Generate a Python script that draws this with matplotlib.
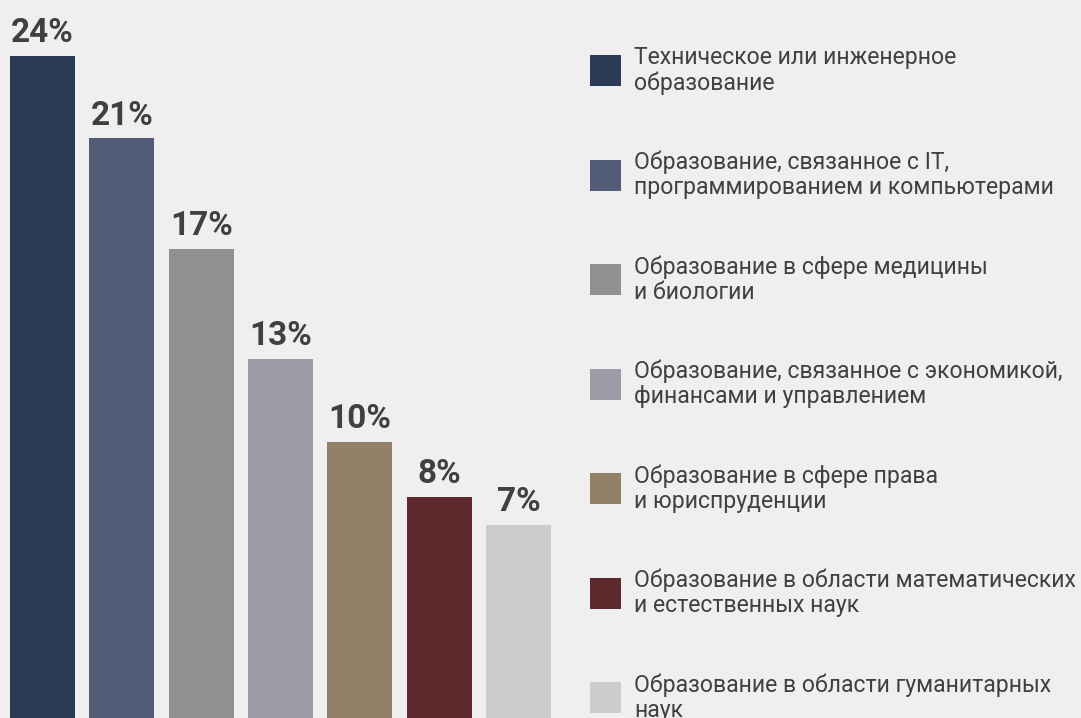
import matplotlib
matplotlib.use("Agg")
import matplotlib.pyplot as plt
from matplotlib.patches import Rectangle

categories = [
    "Техническое или инженерное\nобразование",
    "Образование, связанное с IT,\nпрограммированием и компьютерами",
    "Образование в сфере медицины\nи биологии",
    "Образование, связанное с экономикой,\nфинансами и управлением",
    "Образование в сфере права\nи юриспруденции",
    "Образование в области математических\nи естественных наук",
    "Образование в области гуманитарных\nнаук",
]
values = [24, 21, 17, 13, 10, 8, 7]
colors = ["#2B3A55", "#525C77", "#8F918F", "#9F9AA8", "#928068", "#5E292D", "#CDCDCD"]

BG = "#EFEFEF"
TXT = "#404040"
W, H = 1081, 718

plt.rcParams["font.family"] = ["Roboto", "DejaVu Sans"]

fig = plt.figure(figsize=(W / 100, H / 100), dpi=100, facecolor=BG)

# bars: axes spans the left part of the figure, bottom at the figure edge
ax = fig.add_axes([0, 0, 580 / W, 1])
ax.set_facecolor(BG)
step = 79.33
x = list(range(len(values)))
ax.bar(x, values, width=65 / step, color=colors, edgecolor="none")
ax.set_xlim(-42.5 / step, (580 - 42.5) / step)
ax.set_ylim(0, H / 27.6)
for xi, v in zip(x, values):
    ax.annotate(f"{v}%", (xi, v), xytext=(0, 10), textcoords="offset points",
                ha="center", va="baseline", fontsize=24, fontweight="bold", color=TXT)
ax.axis("off")

# legend drawn in pixel units
lax = fig.add_axes([580 / W, 0, 1 - 580 / W, 1])
lax.set_xlim(580, W)
lax.set_ylim(H, 0)
lax.axis("off")
for i, (lab, c) in enumerate(zip(categories, colors)):
    yc = 70.5 + i * 104.5
    lax.add_patch(Rectangle((590, yc - 15.5), 31, 31, color=c, lw=0))
    lax.text(634, yc, lab, ha="left", va="center", fontsize=16.6,
             color=TXT, linespacing=1.12)

fig.savefig("out.png", dpi=100, facecolor=BG)
